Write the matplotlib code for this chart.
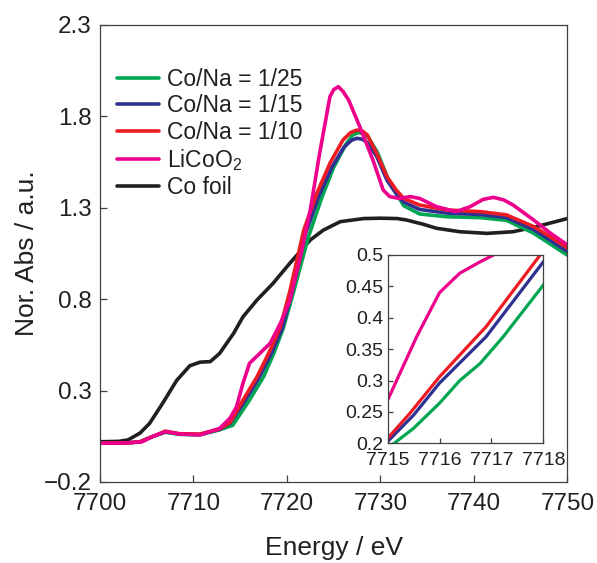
import matplotlib.pyplot as plt
import numpy as np

plt.rcParams['font.family'] = ['Liberation Sans', 'DejaVu Sans']
plt.rcParams['mathtext.fontset'] = 'custom'
plt.rcParams['mathtext.rm'] = 'Liberation Sans'
plt.rcParams['mathtext.it'] = 'Liberation Sans'
plt.rcParams['mathtext.default'] = 'regular'
tc = '#231f20'

# main spectra (energy in eV, normalised absorbance)
e_foil = [7700, 7702, 7703, 7704.3, 7705.3, 7706.7, 7708.2, 7709.6, 7710.7, 7711.8, 7712.8, 7714.3, 7715.3,
          7716.8, 7718.5, 7720.3, 7722.5, 7723.9, 7725.7, 7728.2, 7730, 7731.8, 7732.8, 7734.5, 7736, 7738.5,
          7741.4, 7744.2, 7746.7, 7748.5, 7750]
v_foil = [0.02, 0.022, 0.03, 0.068, 0.12, 0.23, 0.355, 0.435, 0.455, 0.458, 0.503, 0.613, 0.703,
          0.795, 0.885, 0.995, 1.123, 1.177, 1.223, 1.24, 1.242, 1.24, 1.232, 1.21, 1.187, 1.168,
          1.159, 1.168, 1.196, 1.22, 1.24]

e_lco = [7700, 7703, 7704.5, 7705.7, 7707.0, 7708.5, 7710.7, 7712.8, 7713.9, 7714.6, 7715.3, 7716.0, 7717.1,
         7718.2, 7719.3, 7720.3, 7721.4, 7722.5, 7723.5, 7724.6, 7725.0, 7725.5, 7726.0, 7726.6, 7727.8,
         7729.2, 7730.3, 7731.0, 7732.0, 7733.2, 7734.2, 7736, 7738.1, 7739.6, 7741.0, 7742.1, 7743.2,
         7744.2, 7746.4, 7748.2, 7750]
v_lco = [0.012, 0.014, 0.02, 0.05, 0.075, 0.062, 0.057, 0.093, 0.148, 0.21, 0.34, 0.449, 0.503,
         0.558, 0.667, 0.79, 1.02, 1.287, 1.597, 1.906, 1.945, 1.961, 1.935, 1.888, 1.742,
         1.56, 1.396, 1.36, 1.35, 1.36, 1.35, 1.305, 1.278, 1.305, 1.345, 1.356, 1.342,
         1.314, 1.232, 1.16, 1.096]

e_r10 = [7700, 7703, 7704.3, 7705.7, 7707.0, 7708.5, 7710.7, 7712.8, 7713.9, 7715.3, 7716.8, 7718.2, 7719.3,
         7720.3, 7721.8, 7723.2, 7724.6, 7726.0, 7726.8, 7727.5, 7728.1, 7728.6, 7729.6, 7730.7, 7731.7,
         7732.5, 7734.2, 7737.1, 7740.7, 7743.5, 7746.4, 7748.2, 7750]
v_r10 = [0.012, 0.014, 0.02, 0.05, 0.078, 0.064, 0.062, 0.09, 0.125, 0.248, 0.375, 0.52, 0.65,
         0.84, 1.177, 1.378, 1.542, 1.67, 1.71, 1.724, 1.718, 1.697, 1.597, 1.469, 1.396,
         1.35, 1.314, 1.287, 1.278, 1.26, 1.196, 1.14, 1.08]

e_r15 = [7700, 7703, 7704.3, 7705.7, 7707.0, 7708.5, 7710.7, 7712.8, 7713.9, 7715.4, 7716.9, 7718.4, 7719.5,
         7720.5, 7722.0, 7723.4, 7724.8, 7726.1, 7726.9, 7727.5, 7728.1, 7728.6, 7729.6, 7730.7, 7731.7,
         7732.5, 7734.2, 7737.1, 7740.7, 7743.5, 7746.4, 7748.2, 7750]
v_r15 = [0.012, 0.014, 0.02, 0.05, 0.075, 0.062, 0.06, 0.088, 0.12, 0.235, 0.36, 0.51, 0.64,
         0.83, 1.16, 1.36, 1.52, 1.63, 1.668, 1.679, 1.673, 1.655, 1.58, 1.45, 1.375,
         1.33, 1.29, 1.27, 1.262, 1.245, 1.18, 1.12, 1.06]

e_r25 = [7700, 7703, 7704.3, 7705.7, 7707.0, 7708.5, 7710.7, 7712.8, 7714.2, 7716.0, 7717.5, 7718.6, 7719.6,
         7720.5, 7722.3, 7723.7, 7725.0, 7726.3, 7727.0, 7727.6, 7728.2, 7728.7, 7729.7, 7730.8, 7731.8,
         7732.5, 7734.2, 7737.1, 7740.7, 7743.5, 7746.4, 7748.2, 7750]
v_r25 = [0.012, 0.014, 0.02, 0.05, 0.072, 0.06, 0.058, 0.085, 0.11, 0.248, 0.375, 0.503, 0.64,
         0.80, 1.14, 1.35, 1.52, 1.645, 1.695, 1.71, 1.704, 1.685, 1.60, 1.46, 1.37,
         1.31, 1.265, 1.25, 1.245, 1.23, 1.16, 1.10, 1.04]

# inset (zoom of the edge, 7715-7718 eV)
ie_lco = [7715, 7715.56, 7716.0, 7716.39, 7716.78, 7717.04, 7717.5]
iv_lco = [0.269, 0.37, 0.44, 0.471, 0.489, 0.5, 0.515]
ie_r10 = [7715, 7715.43, 7716.0, 7716.9, 7717.94, 7718.1]
iv_r10 = [0.208, 0.248, 0.306, 0.386, 0.5, 0.515]
ie_r15 = [7715, 7715.5, 7716, 7716.9, 7718]
iv_r15 = [0.203, 0.245, 0.296, 0.37, 0.489]
ie_r25 = [7715, 7715.5, 7716, 7716.39, 7716.78, 7717.23, 7718]
iv_r25 = [0.192, 0.224, 0.264, 0.30, 0.327, 0.37, 0.452]

labels = ['Co/Na = 1/25', 'Co/Na = 1/15', 'Co/Na = 1/10', 'LiCoO$_2$', 'Co foil']
cols = ['#00a651', '#2e3192', '#ed1c24', '#ec008c', '#231f20']
lkw = dict(lw=2.6, solid_joinstyle='round', solid_capstyle='round')

fig = plt.figure(figsize=(5.97, 5.63), dpi=100)
ax = fig.add_axes([0.1675, 0.1439, 0.7828, 0.8123])

hf, = ax.plot(e_foil, v_foil, color=cols[4], **lkw)
h25, = ax.plot(e_r25, v_r25, color=cols[0], **lkw)
h15, = ax.plot(e_r15, v_r15, color=cols[1], **lkw)
h10, = ax.plot(e_r10, v_r10, color=cols[2], **lkw)
hl, = ax.plot(e_lco, v_lco, color=cols[3], **lkw)

ax.set_xlim(7700, 7750)
ax.set_ylim(-0.2, 2.3)
ax.set_xticks(np.arange(7700, 7751, 10))
ax.set_yticks([-0.2, 0.3, 0.8, 1.3, 1.8, 2.3])
ax.set_yticklabels(['\u22120.2', '0.3', '0.8', '1.3', '1.8', '2.3'])
ax.tick_params(direction='in', length=5, width=0.9, color='#404040', labelsize=17.5, labelcolor=tc)
ax.tick_params(axis='x', pad=8)
ax.tick_params(axis='y', pad=6)
for s in ax.spines.values():
    s.set_color('#404040'); s.set_linewidth(0.9)
ax.set_xlabel('Energy / eV', fontsize=19, color=tc, labelpad=15)
ax.set_ylabel('Nor. Abs / a.u.', fontsize=19, color=tc, labelpad=3)

leg = ax.legend([h25, h15, h10, hl, hf], labels, loc='upper left', bbox_to_anchor=(0.037, 0.905),
                frameon=False, fontsize=16.5, handlelength=1.8, handletextpad=0.35, labelspacing=0.14,
                borderpad=0, borderaxespad=0)
for t in leg.get_texts():
    t.set_color(tc)

ins = fig.add_axes([0.6494, 0.2126, 0.2606, 0.3345])
ins.plot(ie_r25, iv_r25, color=cols[0], lw=2.3)
ins.plot(ie_r15, iv_r15, color=cols[1], lw=2.3)
ins.plot(ie_r10, iv_r10, color=cols[2], lw=2.3)
ins.plot(ie_lco, iv_lco, color=cols[3], lw=2.3)
ins.set_xlim(7715, 7718)
ins.set_ylim(0.2, 0.5)
ins.set_xticks([7715, 7716, 7717, 7718])
ins.set_yticks([0.2, 0.25, 0.3, 0.35, 0.4, 0.45, 0.5])
ins.set_yticklabels(['0.2', '0.25', '0.3', '0.35', '0.4', '0.45', '0.5'])
ins.tick_params(direction='in', length=3.5, width=0.9, color='#404040', labelsize=14, labelcolor=tc, pad=3)
ins.tick_params(axis='x', pad=6)
for s in ins.spines.values():
    s.set_color('#404040'); s.set_linewidth(0.9)

fig.savefig('out.png', dpi=100)
